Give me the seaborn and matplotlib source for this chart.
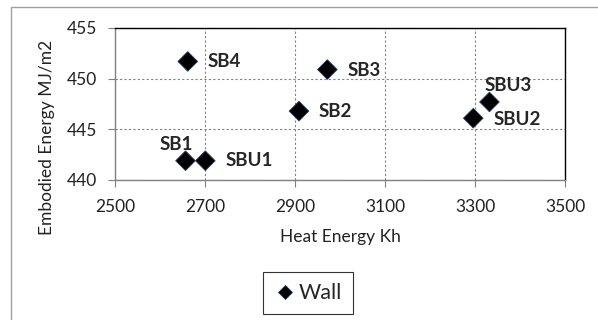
import numpy as np
import pandas as pd
import matplotlib
matplotlib.use("Agg")
import matplotlib.pyplot as plt
from matplotlib.patches import Rectangle
import seaborn as sns

# values
labels = ["SB1", "SBU1", "SB4", "SB2", "SB3", "SBU2", "SBU3"]
heat_energy = [2657, 2701, 2662, 2909, 2972, 3296, 3332]
embodied_energy = [441.9, 441.9, 451.7, 446.8, 450.9, 446.1, 447.7]
x_ticks = [2500, 2700, 2900, 3100, 3300, 3500]
y_ticks = [440, 445, 450, 455]

df = pd.DataFrame({"Heat": heat_energy, "Embodied": embodied_energy,
                   "Label": labels, "Series": "Wall"})

sns.set_style("white")
plt.rcParams["font.family"] = ["Lato", "DejaVu Sans"]

fig = plt.figure(figsize=(5.98, 3.2), dpi=100)
ax = fig.add_axes([0.192, 0.4375, 0.753, 0.475])

sns.scatterplot(data=df, x="Heat", y="Embodied", hue="Series",
                palette=["black"], marker="D", s=100, edgecolor="#1f3b66",
                linewidth=0.6, ax=ax, zorder=3)

# label offsets (points) and alignment, to mimic the original placement
offsets = {"SB1": (5, 12, "right"), "SBU1": (14.4, 0, "left"),
           "SB4": (14.4, 0, "left"), "SB2": (14.4, 0, "left"),
           "SB3": (14.4, -0.5, "left"), "SBU2": (14.4, -0.7, "left"),
           "SBU3": (-3.6, 12, "left")}
for lab, xv, yv in zip(labels, heat_energy, embodied_energy):
    dx, dy, ha = offsets[lab]
    ax.annotate(lab, (xv, yv), xytext=(dx, dy), textcoords="offset points",
                fontsize=13.5, fontweight="bold", va="center", ha=ha)

ax.set_xlim(2500, 3500)
ax.set_ylim(440, 455)
ax.set_xticks(x_ticks)
ax.set_yticks(y_ticks)
ax.grid(True, linestyle=(0, (2, 2)), color="#808080", linewidth=0.8)
for sp in ax.spines.values():
    sp.set_visible(True)
    sp.set_color("black")
    sp.set_linewidth(1.0)
ax.spines["left"].set_color("#808080")
ax.spines["bottom"].set_color("#808080")
ax.tick_params(axis="both", direction="out", length=5, width=0.8,
               color="#808080", labelsize=12.5, labelcolor="#222222",
               bottom=True, left=True)
ax.tick_params(axis="x", pad=9)
ax.tick_params(axis="y", pad=8)
ax.set_xlabel("Heat Energy Kh", fontsize=12.5, color="#222222")
ax.set_ylabel("Embodied Energy MJ/m2", fontsize=12.5, color="#222222")
ax.xaxis.set_label_coords(0.5, -0.325)
ax.yaxis.set_label_coords(-0.133, 0.283)

leg = ax.legend(loc="center", bbox_to_anchor=(0.515, 0.084),
                bbox_transform=fig.transFigure, frameon=True, fontsize=15.5,
                handletextpad=0.15, borderpad=0.5, borderaxespad=0,
                markerscale=0.75, handlelength=1.0, fancybox=False)
leg.get_frame().set_edgecolor("black")
leg.get_frame().set_linewidth(0.8)

# outer chart border (cropped at the right and bottom like the original)
fig.patches.append(Rectangle((11 / 598, -0.05), 1.0, 1.05 - 7 / 320,
                             transform=fig.transFigure, fill=False,
                             edgecolor="#a0a0a0", linewidth=1.0))

fig.savefig("out.png", dpi=100)
